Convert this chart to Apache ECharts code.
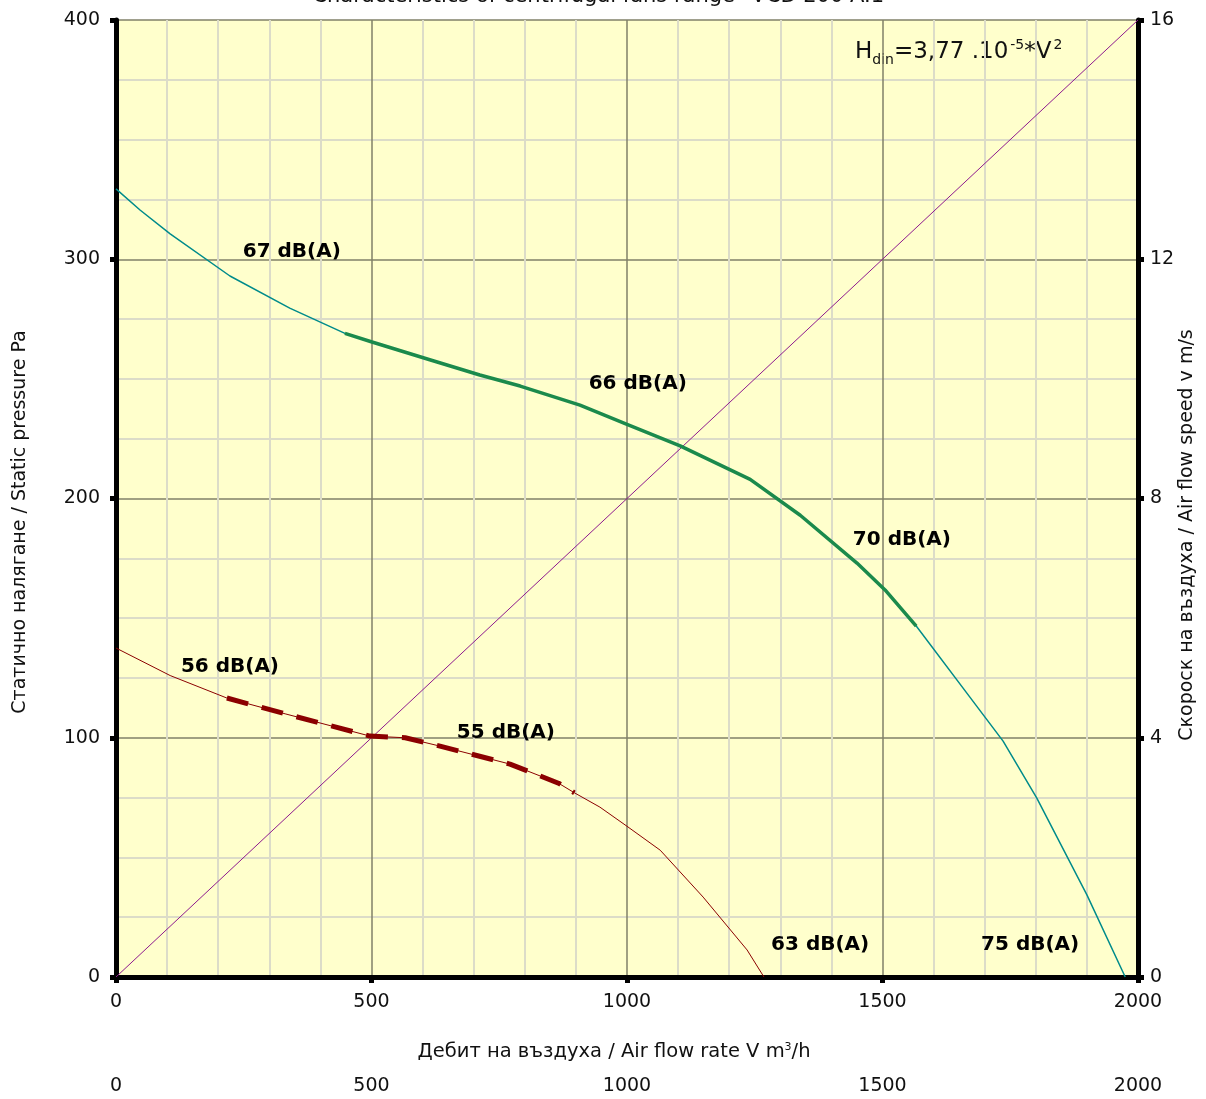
<!DOCTYPE html>
<html>
<head>
<meta charset="utf-8">
<script src="https://cdn.jsdelivr.net/npm/echarts@6/dist/echarts.min.js"></script>
<style>html,body{margin:0;padding:0;background:#fff}#c{width:1206px;height:1099px}</style>
</head>
<body>
<div id="c"></div>
<script>
// Data
const xTicks = [0, 500, 1000, 1500, 2000];
const leftTicks = [0, 100, 200, 300, 400];
const rightTicks = [0, 4, 8, 12, 16];

// Fan curve (teal thin, full range)
const fanV = [0, 47, 106, 223, 340, 448, 501, 614, 712, 791, 908, 1000, 1104, 1241, 1339, 1450, 1505, 1566, 1671, 1736, 1802, 1900, 1975];
const fanP = [329.4, 320.6, 310.6, 293, 279.6, 269, 265.4, 258, 251.6, 247, 239, 231, 222, 208, 193, 173, 161.8, 146.7, 117, 98.6, 74.8, 34.3, 0];
// Recommended working zone of fan curve (thick green)
const workV = [448, 501, 614, 712, 791, 908, 1000, 1104, 1241, 1339, 1450, 1505, 1566];
const workP = [269, 265.4, 258, 251.6, 247, 239, 231, 222, 208, 193, 173, 161.8, 146.7];

// Low speed curve (dark red thin)
const lowV = [0, 106, 217, 331, 497, 566, 634, 771, 866, 897, 947, 1000, 1065, 1149, 1235, 1268];
const lowP = [137.5, 126, 116.6, 110, 100.7, 100, 96.5, 89, 81, 77, 71, 63, 53, 33.4, 11.3, 0];
// Low speed working zone (dashed thick)
const lowWorkV = [217, 331, 497, 566, 634, 771, 866, 897];
const lowWorkP = [116.6, 110, 100.7, 100, 96.5, 89, 81, 77];

// Air speed line v = f(V)
const speedV = [0, 2000];
const speedS = [0, 16];

// Noise annotations
const noiseText = ['67 dB(A)', '66 dB(A)', '70 dB(A)', '56 dB(A)', '55 dB(A)', '63 dB(A)', '75 dB(A)'];
const noiseV = [344, 1021, 1538, 223, 763, 1378, 1789];
const noiseP = [303, 248, 182.6, 129.6, 102, 13.4, 13.4];

const zip = (a, b) => a.map((v, i) => [v, b[i]]);
const FONT = 'DejaVu Sans';
const plain = v => String(v);

const chart = echarts.init(document.getElementById('c'), null, {renderer: 'canvas'});
chart.setOption({
  animation: false,
  backgroundColor: '#ffffff',
  textStyle: {fontFamily: FONT},
  grid: {left: 116, right: 68, top: 20, bottom: 122, show: true, backgroundColor: '#ffffcc', borderWidth: 0},
  xAxis: [{
    type: 'value', min: 0, max: 2000, interval: 500,
    axisLine: {show: true, onZero: false, lineStyle: {color: '#000', width: 5}},
    axisTick: {show: true, length: 6, lineStyle: {color: '#000', width: 5}},
    axisLabel: {color: '#111', fontSize: 19, margin: 16, fontFamily: FONT, formatter: plain},
    splitLine: {show: true, lineStyle: {color: '#808068', width: 1.5}},
    minorTick: {show: false, splitNumber: 5},
    minorSplitLine: {show: true, lineStyle: {color: '#dcdcc8', width: 2}}
  }, {
    type: 'value', min: 0, max: 2000, interval: 500, position: 'bottom', offset: 84,
    axisLine: {show: false}, axisTick: {show: false},
    axisLabel: {color: '#111', fontSize: 19, margin: 16, fontFamily: FONT, formatter: plain},
    splitLine: {show: false}
  }],
  yAxis: [{
    type: 'value', min: 0, max: 400, interval: 100,
    axisLine: {show: true, onZero: false, lineStyle: {color: '#000', width: 5}},
    axisTick: {show: true, length: 6, lineStyle: {color: '#000', width: 5}},
    axisLabel: {color: '#111', fontSize: 19, margin: 16, fontFamily: FONT, formatter: plain},
    splitLine: {show: true, lineStyle: {color: '#808068', width: 1.5}},
    minorTick: {show: false, splitNumber: 4},
    minorSplitLine: {show: true, lineStyle: {color: '#dcdcc8', width: 2}}
  }, {
    type: 'value', min: 0, max: 16, interval: 4, position: 'right',
    axisLine: {show: true, onZero: false, lineStyle: {color: '#000', width: 5}},
    axisTick: {show: true, length: 6, inside: false, lineStyle: {color: '#000', width: 5}},
    axisLabel: {color: '#111', fontSize: 19, margin: 12, fontFamily: FONT, formatter: plain},
    splitLine: {show: false}
  }],
  series: [
    {type: 'line', data: zip(speedV, speedS), yAxisIndex: 1, showSymbol: false, lineStyle: {color: '#8e1a8e', width: 1}, z: 2},
    {type: 'line', data: zip(fanV, fanP), showSymbol: false, lineStyle: {color: '#008b8b', width: 1.5}, z: 3},
    {type: 'line', data: zip(workV, workP), showSymbol: false, lineStyle: {color: '#1b8a4c', width: 3.5}, z: 4},
    {type: 'line', data: zip(lowV, lowP), showSymbol: false, lineStyle: {color: '#8b0000', width: 1}, z: 3},
    {type: 'line', data: zip(lowWorkV, lowWorkP), showSymbol: false, lineStyle: {color: '#8b0000', width: 5, type: [22, 14]}, z: 4},
    {type: 'scatter', data: noiseV.map((v, i) => ({value: [v, noiseP[i]], name: noiseText[i]})),
      symbolSize: 0, z: 6, itemStyle: {opacity: 1},
      label: {show: true, position: 'inside', formatter: p => p.name, color: '#000', opacity: 1, fontWeight: 'bold', fontSize: 20, fontFamily: FONT}}
  ],
  graphic: [
    {type: 'text', left: 'center', top: -14, style: {text: 'Characteristics of centrifugal fans range "VCD 200 A.1"', fontSize: 21, fontFamily: FONT, fill: '#111'}},
    {type: 'text', x: 855, y: 35, style: {
      text: '{a|H}{sub|din}{a|=3,77 .10}{sup|-5}{a|*V}{sup|2}',
      fontFamily: FONT, fill: '#111',
      rich: {
        a: {fontSize: 23, fontFamily: FONT, lineHeight: 34, verticalAlign: 'middle'},
        sub: {fontSize: 14, fontFamily: FONT, lineHeight: 34, verticalAlign: 'bottom', padding: [0, 0, 2, 0]},
        sup: {fontSize: 14, fontFamily: FONT, lineHeight: 34, verticalAlign: 'top', padding: [3, 0, 0, 2]}
      }}},
    {type: 'text', x: 614, y: 1052, style: {
      text: '{a|Дебит на въздуха / Air flow rate V m}{sup|3}{a|/h}', align: 'center', verticalAlign: 'middle', fill: '#111',
      rich: {a: {fontSize: 19.5, fontFamily: FONT, lineHeight: 26}, sup: {fontSize: 11, fontFamily: FONT, lineHeight: 26, verticalAlign: 'top', padding: [3, 0, 0, 0]}}}},
    {type: 'text', x: 20, y: 522, rotation: Math.PI / 2, style: {text: 'Статично налягане / Static pressure Pa', align: 'center', verticalAlign: 'middle', fontSize: 19, fontFamily: FONT, fill: '#111'}},
    {type: 'text', x: 1187, y: 535, rotation: Math.PI / 2, style: {text: 'Скороск на въздуха / Air flow speed v m/s', align: 'center', verticalAlign: 'middle', fontSize: 19, fontFamily: FONT, fill: '#111'}}
  ]
});
</script>
</body>
</html>
